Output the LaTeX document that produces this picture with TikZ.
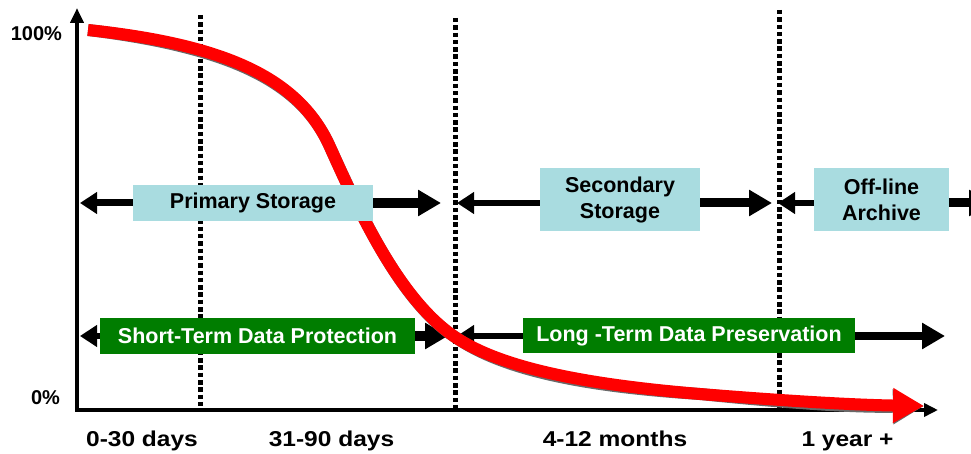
\documentclass[tikz,border=0pt]{standalone}
\usepackage{fontspec}
\setmainfont{Liberation Sans}
\usepackage{graphicx}
\usetikzlibrary{arrows.meta}
\definecolor{boxblue}{RGB}{169,220,224}
\definecolor{boxgreen}{RGB}{0,125,0}
\definecolor{curvered}{RGB}{255,0,0}
\definecolor{shadowgray}{RGB}{105,105,105}
\pgfdeclarelayer{bg}
\pgfsetlayers{bg,main}

\begin{document}
\begin{tikzpicture}[x=1pt,y=-1pt,
  lbl/.style={font=\fontsize{21.5}{26}\selectfont\bfseries, inner sep=0pt, outer sep=0pt},
  pct/.style={font=\fontsize{20}{24}\selectfont\bfseries, inner sep=0pt, outer sep=0pt},
  bluebox/.style={lbl, fill=boxblue, align=center, text=black},
  greenbox/.style={lbl, fill=boxgreen, text=white},
  divider/.style={line width=5pt, dash pattern=on 4.5pt off 2.8pt},
  axisline/.style={line width=4.5pt, line join=miter,
    {Triangle[length=15pt,width=13pt]}-{Triangle[length=14pt,width=13pt]}},
  headR/.style={-{Triangle[length=23pt,width=25pt]}},
  headL/.style={-{Triangle[length=17pt,width=21pt]}},
  decay/.style={line width=12pt, line join=round,
    -{Triangle[length=31pt,width=33pt]}},
]
\useasboundingbox (0,0) rectangle (971,454);

% axes and guide points
\coordinate (O) at (77,410);
\coordinate (ytop) at (77,8);
\coordinate (xend) at (938,410);
\coordinate (d1t) at (200,15);  \coordinate (d1b) at (200,410);
\coordinate (d2t) at (455,18);  \coordinate (d2b) at (455,410);
\coordinate (d3t) at (779,10);  \coordinate (d3b) at (779,410);

% arrow end points of the two span rows
\coordinate (psL) at (80,203);  \coordinate (psR) at (441,203);
\coordinate (ssL) at (457,203); \coordinate (ssR) at (772,203);
\coordinate (olL) at (778,203); \coordinate (olR) at (992,203);
\coordinate (stL) at (80,336);  \coordinate (stR) at (448,336);
\coordinate (ltL) at (457,336); \coordinate (ltR) at (945,336);

% points on the decay curve
\coordinate (c0) at (88,30);
\coordinate (c1) at (330,147);
\coordinate (c2) at (455,337);
\coordinate (c3) at (700,394);
\coordinate (c4) at (924,406);

% labelled boxes
\node[bluebox, minimum width=240pt, minimum height=36pt] (ps) at (253,203) {Primary Storage};
\node[bluebox, minimum width=160pt, minimum height=63pt] (ss) at (620,199.5) {Secondary\\Storage};
\node[bluebox, minimum width=135pt, minimum height=63pt] (ol) at (881.5,199.5) {Off-line\\Archive};
\node[greenbox, minimum width=315pt, minimum height=36pt] (st) at (257.5,336) {Short-Term Data Protection};
\node[greenbox, minimum width=332pt, minimum height=35pt] (lt) at (689,335.5) {Long -Term Data Preservation};

% axis texts
\node[pct, anchor=base east] (p100) at (62,40.5) {100\%};
\node[pct, anchor=base east] (p0) at (60,404) {0\%};
\node[lbl, anchor=base] (t1) at (142,446) {\scalebox{1.14}[1]{0-30 days}};
\node[lbl, anchor=base] (t2) at (331.5,446) {\scalebox{1.14}[1]{31-90 days}};
\node[lbl, anchor=base] (t3) at (615,446) {\scalebox{1.14}[1]{4-12 months}};
\node[lbl, anchor=base] (t4) at (847.5,446) {\scalebox{1.14}[1]{1 year +}};

\begin{pgfonlayer}{bg}
  % period dividers
  \draw[divider] (d1t) -- (d1b);
  \draw[divider] (d2t) -- (d2b);
  \draw[divider] (d3t) -- (d3b);
  % axes
  \draw[axisline] (ytop) -- (O) -- (xend);
  % storage tier spans
  \draw[line width=7pt, headL] (ps.west) -- (psL);
  \draw[line width=10pt, headR] (ps.east) -- (psR);
  \draw[line width=6pt, headL] (ss.west |- ssL) -- (ssL);
  \draw[line width=9pt, headR] (ss.east |- ssR) -- (ssR);
  \draw[line width=6pt, headL] (ol.west |- olL) -- (olL);
  \draw[line width=9pt, headR] (ol.east |- olR) -- (olR);
  % data protection spans
  \draw[line width=6pt, headL] (st.west) -- (stL);
  \draw[line width=10pt, headR] (st.east) -- (stR);
  \draw[line width=6pt, headL] (lt.west |- ltL) -- (ltL);
  \draw[line width=8pt, headR] (lt.east |- ltR) -- (ltR);
  % value decay curve with its shadow
  \foreach \sh/\col in {{(1.5,2.5)}/shadowgray, {(0,0)}/curvered}{
    \draw[decay, \col, shift=\sh] (c0)
      .. controls (230,45) and (300,80) .. (c1)
      .. controls (360,214) and (400,300) .. (c2)
      .. controls (500,367) and (580,384) .. (c3)
      .. controls (800,402) and (860,405) .. (c4);
  }
\end{pgfonlayer}
\end{tikzpicture}
\end{document}
